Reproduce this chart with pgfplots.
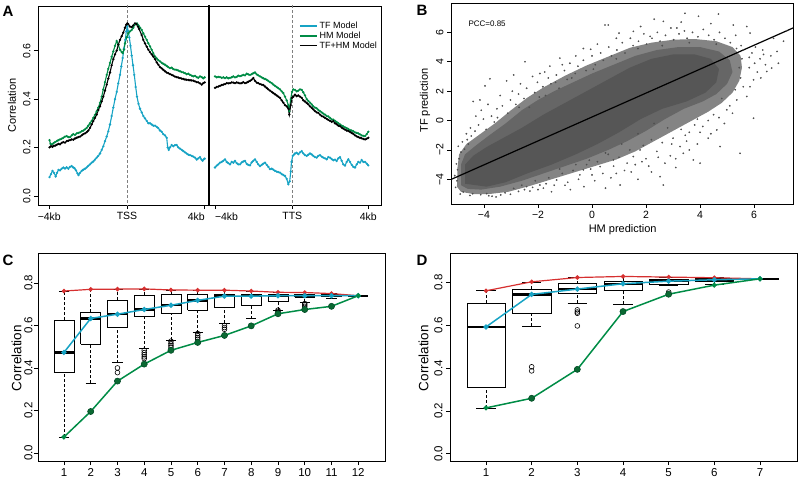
\documentclass[border=0pt]{standalone}
\usepackage{fontspec}
\setmainfont{Liberation Sans}
\usepackage{pgfplots}
\pgfplotsset{compat=1.18}
\definecolor{tfc}{RGB}{23,163,196}
\definecolor{hmc}{RGB}{0,140,70}
\definecolor{hmd}{RGB}{10,105,50}
\definecolor{redc}{RGB}{214,48,48}
\definecolor{ptc}{RGB}{80,80,80}
\definecolor{halo}{RGB}{132,132,132}
\definecolor{midc}{RGB}{102,102,102}
\definecolor{corec}{RGB}{86,86,86}
\newcommand{\fs}[1]{\fontsize{#1}{#1}\selectfont}
\pgfplotsset{
  rstyle/.style={
    scale only axis,
    axis line style={black, line width=0.8pt},
    tick style={black, line width=0.6pt},
    tick align=outside,
    major tick length=4pt,
    xtick pos=bottom, ytick pos=left,
    /pgf/number format/assume math mode=true,
    yticklabel style={rotate=90, anchor=south},
    xticklabel style={anchor=north},
    unbounded coords=jump,
  },
}
\begin{document}
\begin{tikzpicture}[x=1pt,y=1pt]
% ---------------- Panel A ----------------
\begin{axis}[rstyle, at={(38pt,275pt)}, anchor=south west, width=343pt, height=199pt,
  xmin=38, xmax=381, ymin=-0.038, ymax=0.785,
  xtick={49.3,127,204.7,215,292.3,368.3},
  xticklabels={−4kb,TSS,\llap{4kb},\rlap{−4kb},TTS,4kb},
  ytick={0,0.2,0.4,0.6}, yticklabels={0.0,0.2,0.4,0.6},
  tick label style={font=\fs{10.5}},
  ylabel={Correlation},
  ylabel style={at={(rel axis cs:-0.076,0.5)}, anchor=center, font=\fs{11}},
  legend style={draw=none, fill=none, at={(0.752,0.94)}, anchor=north west, font=\fs{9}, row sep=-2.2pt, cells={anchor=west}},
]
\addlegendimage{tfc, line width=1.4pt}
\addlegendentry{TF Model}
\addlegendimage{hmc, line width=1.4pt}
\addlegendentry{HM Model}
\addlegendimage{black, line width=1.4pt}
\addlegendentry{TF+HM Model}
\addplot[forget plot, gray, dash pattern=on 3pt off 2pt, line width=0.7pt] coordinates {(127,-0.05) (127,0.8)};
\addplot[forget plot, gray, dash pattern=on 3pt off 2pt, line width=0.7pt] coordinates {(292.3,-0.05) (292.3,0.8)};
\addplot[forget plot, black, line width=1.6pt] coordinates {(209,-0.05) (209,0.8)};
\addplot[forget plot, tfc, line width=1.1pt, mark=*, mark size=0.5pt] table[row sep=\\]{x y\\
49.5 0.077\\ 51 0.09\\ 52.5 0.103\\ 54 0.095\\ 55.7 0.08\\ 57 0.095\\ 58.5 0.107\\ 60 0.105\\ 61.7 0.112\\ 63.3 0.117\\
65 0.113\\ 66.7 0.118\\ 68.3 0.112\\ 70 0.12\\ 71.7 0.123\\ 73 0.118\\ 74.5 0.114\\ 76 0.105\\ 77.5 0.093\\ 78.5 0.086\\
80 0.095\\ 81.7 0.103\\ 83.3 0.108\\ 85 0.112\\ 86.7 0.117\\ 88.3 0.124\\ 90 0.13\\ 91.7 0.137\\ 93.3 0.142\\ 95 0.15\\
96.7 0.158\\ 98.3 0.165\\ 100 0.175\\ 101.7 0.19\\ 103.3 0.205\\ 105 0.226\\ 106.7 0.245\\ 108.3 0.267\\ 110 0.295\\ 111.7 0.33\\
113.3 0.365\\ 115 0.40\\ 116.7 0.43\\ 118.3 0.465\\ 120 0.50\\ 121.3 0.535\\ 122.7 0.57\\ 124 0.61\\ 125.3 0.645\\ 126.3 0.68\\
127.3 0.70\\ 128.3 0.68\\ 129.3 0.655\\ 130.5 0.62\\ 131.7 0.58\\ 133 0.54\\ 134.3 0.50\\ 135.7 0.45\\ 137 0.41\\ 138.5 0.38\\
140 0.36\\ 141.7 0.345\\ 143.3 0.33\\ 145 0.32\\ 146.7 0.31\\ 148.3 0.30\\ 150 0.30\\ 151.7 0.295\\ 153.3 0.29\\ 155 0.29\\
156.7 0.285\\ 158.3 0.28\\ 160 0.27\\ 161.7 0.265\\ 163.3 0.255\\ 165 0.25\\ 166.7 0.24\\ 167.7 0.2\\ 168.7 0.19\\ 170 0.2\\
171.7 0.21\\ 173.3 0.205\\ 175 0.21\\ 176.7 0.21\\ 178.3 0.2\\ 180 0.195\\ 181.7 0.19\\ 183.3 0.185\\ 185 0.18\\ 186.7 0.175\\
188.3 0.17\\ 190 0.168\\ 191.7 0.165\\ 193.3 0.162\\ 195 0.158\\ 196.7 0.15\\ 198.3 0.155\\ 200 0.16\\ 201.5 0.15\\ 202.7 0.145\\
204 0.152\\ 204.7 0.154\\ 209 nan\\
215 0.117\\ 216.7 0.125\\ 218.3 0.13\\ 220 0.137\\ 221.7 0.14\\ 223.3 0.145\\ 225 0.151\\ 226.7 0.14\\ 228.3 0.135\\ 230 0.13\\
231.7 0.14\\ 233.3 0.137\\ 235 0.144\\ 236.7 0.135\\ 238.3 0.13\\ 240 0.13\\ 241.7 0.138\\ 243.3 0.142\\ 245 0.144\\ 246.7 0.132\\
248.3 0.128\\ 250 0.126\\ 251.7 0.138\\ 253.3 0.145\\ 255 0.151\\ 256.7 0.14\\ 258.3 0.13\\ 260 0.123\\ 261.7 0.128\\ 263.3 0.133\\
265 0.137\\ 266.7 0.128\\ 268.3 0.12\\ 270 0.11\\ 271.7 0.112\\ 273.3 0.108\\ 275 0.103\\ 276.7 0.1\\ 278.3 0.098\\ 280 0.096\\
281.7 0.09\\ 283.3 0.086\\ 285 0.082\\ 286.7 0.07\\ 288.3 0.048\\ 289.7 0.06\\ 290.7 0.1\\ 291.5 0.14\\ 292.7 0.165\\ 294 0.17\\
295 0.175\\ 296.7 0.178\\ 298.3 0.172\\ 300 0.18\\ 301.7 0.185\\ 303.3 0.175\\ 305 0.168\\ 306.7 0.165\\ 308.3 0.17\\ 310 0.175\\
311.7 0.171\\ 313.3 0.165\\ 315 0.16\\ 316.7 0.158\\ 318.3 0.165\\ 320 0.168\\ 321.7 0.162\\ 323.3 0.158\\ 325 0.155\\ 326.7 0.151\\
328.3 0.16\\ 330 0.158\\ 331.7 0.152\\ 333.3 0.147\\ 335 0.15\\ 336.7 0.144\\ 338.3 0.155\\ 340 0.16\\ 341.7 0.145\\ 343.3 0.13\\
345 0.125\\ 346.7 0.14\\ 348.3 0.151\\ 350 0.14\\ 351.7 0.128\\ 353.3 0.12\\ 355 0.117\\ 356.7 0.13\\ 358.3 0.14\\ 360 0.137\\
361.7 0.148\\ 363.3 0.14\\ 365 0.14\\ 366.7 0.133\\ 368.3 0.126\\
};
\addplot[forget plot, hmc, line width=1.1pt, mark=*, mark size=0.5pt] table[row sep=\\]{x y\\
49.5 0.23\\ 50.5 0.215\\ 52 0.213\\ 53.5 0.218\\ 55 0.222\\ 56.7 0.226\\ 58.3 0.23\\ 60 0.233\\ 61.7 0.236\\ 63.3 0.24\\
65 0.245\\ 66.7 0.247\\ 68.3 0.243\\ 70 0.243\\ 71.7 0.25\\ 73.3 0.255\\ 75 0.252\\ 76.7 0.258\\ 78.3 0.26\\ 80 0.262\\
81.7 0.267\\ 83.3 0.27\\ 85 0.275\\ 86.7 0.281\\ 88.3 0.29\\ 90 0.30\\ 91.7 0.31\\ 93.3 0.322\\ 95 0.335\\ 96.7 0.35\\
98.3 0.365\\ 100 0.384\\ 101.7 0.41\\ 103.3 0.44\\ 105 0.47\\ 106.7 0.50\\ 108.3 0.525\\ 110 0.55\\ 111.7 0.575\\ 113.3 0.597\\
115 0.62\\ 116.7 0.64\\ 118.3 0.625\\ 120 0.604\\ 121.7 0.595\\ 122.7 0.59\\ 124 0.605\\ 125 0.63\\ 126.7 0.655\\ 128.3 0.672\\
130 0.68\\ 131.7 0.686\\ 133.3 0.695\\ 134.3 0.706\\ 135.7 0.71\\ 137 0.713\\ 138.5 0.705\\ 140 0.695\\ 141.7 0.686\\ 143.3 0.672\\
145 0.658\\ 146.7 0.645\\ 148.3 0.631\\ 150 0.618\\ 151.7 0.604\\ 153.3 0.59\\ 155 0.576\\ 156.7 0.568\\ 158.3 0.561\\ 160 0.556\\
161.7 0.55\\ 163.3 0.546\\ 165 0.542\\ 166.7 0.537\\ 168.3 0.532\\ 170 0.528\\ 171.7 0.53\\ 173.3 0.524\\ 175 0.522\\ 176.7 0.521\\
178.3 0.518\\ 180 0.515\\ 181.7 0.512\\ 183.3 0.51\\ 185 0.507\\ 186.7 0.503\\ 188.3 0.505\\ 190 0.50\\ 191.7 0.497\\ 193.3 0.494\\
195 0.496\\ 196.7 0.491\\ 198.3 0.488\\ 200 0.494\\ 201.7 0.491\\ 203.3 0.486\\ 204.7 0.49\\ 209 nan\\
215 0.494\\ 216.7 0.49\\ 218.3 0.492\\ 220 0.491\\ 221.7 0.488\\ 223.3 0.49\\ 225 0.487\\ 226.7 0.49\\ 228.3 0.486\\ 230 0.488\\
231.7 0.49\\ 233.3 0.494\\ 235 0.49\\ 236.7 0.492\\ 238.3 0.497\\ 240 0.495\\ 241.7 0.497\\ 243.3 0.5\\ 245 0.498\\ 246.7 0.505\\
248.3 0.502\\ 250 0.50\\ 251.7 0.503\\ 253.3 0.507\\ 255 0.51\\ 256.7 0.502\\ 258.3 0.498\\ 260 0.494\\ 261.7 0.49\\ 263.3 0.486\\
265 0.483\\ 266.7 0.48\\ 268.3 0.475\\ 270 0.47\\ 271.7 0.466\\ 273.3 0.46\\ 275 0.455\\ 276.7 0.45\\ 278.3 0.445\\ 280 0.44\\
281.7 0.432\\ 283.3 0.425\\ 285 0.41\\ 286.7 0.395\\ 288.3 0.375\\ 289.3 0.35\\ 290.7 0.4\\ 292 0.43\\ 293.3 0.44\\ 295 0.438\\
296.7 0.432\\ 298.3 0.435\\ 300 0.44\\ 301.7 0.438\\ 303.3 0.428\\ 305 0.415\\ 306.7 0.40\\ 308.3 0.392\\ 310 0.385\\ 311.7 0.378\\
313.3 0.37\\ 315 0.365\\ 316.7 0.362\\ 318.3 0.355\\ 320 0.35\\ 321.7 0.345\\ 323.3 0.34\\ 325 0.336\\ 326.7 0.33\\ 328.3 0.328\\
330 0.322\\ 331.7 0.316\\ 333.3 0.315\\ 335 0.31\\ 336.7 0.305\\ 338.3 0.3\\ 340 0.295\\ 341.7 0.29\\ 343.3 0.287\\ 345 0.283\\
346.7 0.28\\ 348.3 0.276\\ 350 0.272\\ 351.7 0.27\\ 353.3 0.267\\ 355 0.262\\ 356.7 0.26\\ 358.3 0.258\\ 360 0.254\\ 361.7 0.25\\
363.3 0.248\\ 365 0.247\\ 366.7 0.255\\ 368.3 0.265\\
};
\addplot[forget plot, black, line width=1.1pt, mark=*, mark size=0.5pt] table[row sep=\\]{x y\\
49.5 0.20\\ 51 0.205\\ 52.5 0.203\\ 54 0.207\\ 55.7 0.208\\ 57 0.212\\ 58.5 0.215\\ 60 0.213\\ 61.7 0.219\\ 63.3 0.222\\
65 0.22\\ 66.7 0.226\\ 68.3 0.228\\ 70 0.23\\ 71.7 0.233\\ 73.3 0.232\\ 75 0.237\\ 76.7 0.24\\ 78.3 0.243\\ 80 0.245\\
81.7 0.25\\ 83.3 0.255\\ 85 0.258\\ 86.7 0.263\\ 88.3 0.27\\ 90 0.281\\ 91.7 0.295\\ 93.3 0.309\\ 95 0.322\\ 96.7 0.336\\
98.3 0.355\\ 100 0.37\\ 101.7 0.39\\ 103.3 0.41\\ 105 0.435\\ 106.7 0.46\\ 108.3 0.485\\ 110 0.51\\ 111.7 0.54\\ 113.3 0.565\\
115 0.585\\ 116.7 0.60\\ 118.3 0.625\\ 120 0.645\\ 121.7 0.66\\ 123.3 0.675\\ 125 0.695\\ 126.3 0.708\\ 127.3 0.713\\ 128.3 0.71\\
130 0.70\\ 131.7 0.698\\ 133.3 0.705\\ 135 0.713\\ 136.5 0.71\\ 138 0.70\\ 139 0.69\\ 141.7 0.665\\ 143.3 0.645\\ 145 0.63\\
146.7 0.617\\ 148.3 0.604\\ 150 0.594\\ 151.7 0.585\\ 153.3 0.576\\ 155 0.565\\ 156.7 0.552\\ 158.3 0.542\\ 160 0.532\\ 161.7 0.527\\
163.3 0.521\\ 165 0.515\\ 166.7 0.51\\ 168.3 0.507\\ 170 0.503\\ 171.7 0.50\\ 173.3 0.497\\ 175 0.493\\ 176.7 0.491\\ 178.3 0.489\\
180 0.487\\ 181.7 0.485\\ 183.3 0.483\\ 185 0.481\\ 186.7 0.48\\ 188.3 0.479\\ 190 0.478\\ 191.7 0.477\\ 193.3 0.476\\ 195 0.473\\
196.7 0.47\\ 198.3 0.469\\ 200 0.465\\ 201.7 0.46\\ 203.3 0.466\\ 204.7 0.469\\ 209 nan\\
215 0.446\\ 216.7 0.45\\ 218.3 0.452\\ 220 0.455\\ 221.7 0.458\\ 223.3 0.46\\ 225 0.462\\ 226.7 0.466\\ 228.3 0.465\\ 230 0.466\\
231.7 0.469\\ 233.3 0.468\\ 235 0.466\\ 236.7 0.469\\ 238.3 0.467\\ 240 0.465\\ 241.7 0.466\\ 243.3 0.47\\ 245 0.466\\ 246.7 0.468\\
248.3 0.472\\ 250 0.475\\ 251.7 0.48\\ 253.3 0.487\\ 255 0.475\\ 256.7 0.468\\ 258.3 0.466\\ 260 0.462\\ 261.7 0.46\\ 263.3 0.458\\
265 0.452\\ 266.7 0.446\\ 268.3 0.44\\ 270 0.435\\ 271.7 0.43\\ 273.3 0.425\\ 275 0.42\\ 276.7 0.415\\ 278.3 0.41\\ 280 0.405\\
281.7 0.395\\ 283.3 0.385\\ 285 0.375\\ 286.7 0.37\\ 288.3 0.36\\ 289.3 0.336\\ 290.7 0.375\\ 292 0.405\\ 293.3 0.41\\ 295 0.418\\
296.7 0.412\\ 298.3 0.415\\ 300 0.41\\ 301.7 0.405\\ 303.3 0.395\\ 305 0.39\\ 306.7 0.384\\ 308.3 0.378\\ 310 0.37\\ 311.7 0.364\\
313.3 0.357\\ 315 0.35\\ 316.7 0.345\\ 318.3 0.343\\ 320 0.336\\ 321.7 0.33\\ 323.3 0.327\\ 325 0.322\\ 326.7 0.318\\ 328.3 0.314\\
330 0.31\\ 331.7 0.306\\ 333.3 0.309\\ 335 0.3\\ 336.7 0.296\\ 338.3 0.29\\ 340 0.288\\ 341.7 0.282\\ 343.3 0.278\\ 345 0.274\\
346.7 0.27\\ 348.3 0.268\\ 350 0.264\\ 351.7 0.26\\ 353.3 0.256\\ 355 0.25\\ 356.7 0.246\\ 358.3 0.243\\ 360 0.24\\ 361.7 0.238\\
363.3 0.235\\ 365 0.233\\ 366.7 0.236\\ 368.3 0.24\\
};
\end{axis}
% ---------------- Panel B ----------------
\begin{axis}[rstyle, at={(451pt,276pt)}, anchor=south west, width=342pt, height=201pt,
  xmin=-5.22, xmax=7.44, ymin=-5.68, ymax=8.0,
  xtick={-4,-2,0,2,4,6}, xticklabels={−4,−2,0,2,4,6},
  ytick={-4,-2,0,2,4,6}, yticklabels={−4,−2,0,2,4,6},
  tick label style={font=\fs{10.5}},
  xlabel={HM prediction}, ylabel={TF prediction},
  xlabel style={at={(rel axis cs:0.502,-0.129)}, anchor=center, font=\fs{11}},
  ylabel style={at={(rel axis cs:-0.076,0.515)}, anchor=center, font=\fs{11}},
]
\addplot[fill=halo, draw=none] table[row sep=\\]{x y\\
-5.0 -4.5\\ -4.98 -3.2\\ -4.92 -2.3\\ -4.65 -1.6\\ -4.2 -1.0\\ -3.6 -0.2\\ -3.0 0.7\\ -2.4 1.55\\ -1.8 2.25\\ -1.0 3.05\\
-0.2 3.75\\ 0.6 4.35\\ 1.4 4.95\\ 2.2 5.3\\ 3.0 5.5\\ 3.8 5.55\\ 4.6 5.4\\ 5.2 5.0\\ 5.5 4.4\\ 5.55 3.6\\
5.45 2.7\\ 5.2 1.9\\ 4.8 1.2\\ 4.3 0.6\\ 3.7 0.0\\ 3.0 -0.7\\ 2.3 -1.4\\ 1.6 -2.1\\ 0.9 -2.65\\ 0.1 -3.1\\
-0.7 -3.55\\ -1.5 -4.0\\ -2.3 -4.45\\ -3.1 -4.85\\ -3.8 -5.0\\ -4.4 -5.0\\ -4.85 -4.85\\
};
\addplot[fill=midc, draw=none] table[row sep=\\]{x y\\
-4.85 -4.4\\ -4.85 -3.0\\ -4.7 -2.3\\ -4.3 -1.7\\ -3.8 -1.0\\ -3.2 -0.2\\ -2.6 0.7\\ -2.0 1.4\\ -1.4 2.0\\ -0.7 2.6\\
0.0 3.2\\ 0.8 3.8\\ 1.6 4.4\\ 2.4 4.8\\ 3.2 5.0\\ 4.0 5.0\\ 4.7 4.7\\ 5.1 4.1\\ 5.2 3.3\\ 5.0 2.5\\
4.6 1.8\\ 4.1 1.3\\ 3.4 0.8\\ 2.7 0.1\\ 2.0 -0.7\\ 1.3 -1.4\\ 0.6 -2.0\\ -0.2 -2.6\\ -1.0 -3.1\\ -1.8 -3.6\\
-2.6 -4.1\\ -3.4 -4.5\\ -4.1 -4.7\\ -4.6 -4.65\\
};
\addplot[fill=corec, draw=none] table[row sep=\\]{x y\\
-4.7 -4.3\\ -4.7 -3.0\\ -4.4 -2.4\\ -3.9 -1.8\\ -3.3 -1.2\\ -2.6 -0.5\\ -1.8 0.4\\ -1.0 1.2\\ -0.2 2.0\\ 0.6 2.8\\
1.4 3.6\\ 2.2 4.2\\ 3.0 4.5\\ 3.8 4.5\\ 4.4 4.2\\ 4.7 3.5\\ 4.6 2.6\\ 4.2 1.9\\ 3.5 1.3\\ 2.6 0.8\\
1.8 0.1\\ 1.0 -0.8\\ 0.2 -1.6\\ -0.6 -2.3\\ -1.5 -3.0\\ -2.4 -3.6\\ -3.2 -4.2\\ -3.9 -4.5\\
};
\addplot[only marks, mark=*, mark size=0.65pt, ptc] table[row sep=\\]{x y\\
-5.05 -4.55\\ -5.0 -4.1\\ -5.08 -3.75\\ -4.98 -3.35\\ -5.02 -2.95\\ -4.92 -2.6\\ -4.85 -2.15\\ -4.72 -1.95\\ -4.58 -1.6\\ -4.62 -1.3\\
-4.47 -1.05\\ -4.33 -0.72\\ -4.42 -4.98\\ -4.12 -5.05\\ -3.82 -5.12\\ -3.55 -5.2\\ -3.22 -4.92\\ -3.02 -5.02\\ -2.72 -4.82\\ -2.9 -4.62\\
-4.77 -4.86\\ -4.88 -5.0\\ -4.52 -5.1\\ -3.9 -4.97\\ -3.38 -5.06\\ -4.95 -1.75\\ -4.8 -1.45\\ -4.5 -0.5\\ -4.65 -0.9\\ -3.7 -5.15\\
-2.5 -4.7\\ -2.2 -4.55\\
-4.2 -0.3\\ -4.02 0.1\\ -3.92 -0.6\\ -3.72 0.3\\ -3.52 0.8\\ -3.62 -0.1\\ -3.32 1.0\\ -3.12 0.5\\ -3.02 1.4\\ -2.82 1.1\\
-2.72 1.8\\ -2.52 1.5\\ -2.42 2.2\\ -2.32 0.9\\ -2.12 1.9\\ -2.02 2.6\\ -1.82 2.3\\ -1.72 1.7\\ -1.62 2.9\\ -1.52 2.5\\
-1.32 3.1\\ -1.22 2.2\\ -1.02 3.4\\ -0.92 2.8\\ -0.82 3.9\\ -0.62 3.2\\ -0.52 3.7\\ -0.32 4.1\\ -0.22 3.4\\ 0.0 4.4\\
0.12 3.8\\ 0.32 4.6\\ 0.42 4.1\\ 0.62 5.0\\ 0.72 4.4\\ 0.92 4.8\\ 1.12 5.3\\ 1.22 4.6\\ 1.42 5.6\\ 1.52 5.1\\
1.72 5.4\\ 1.92 5.9\\ 2.02 5.2\\ 2.22 5.6\\ 2.42 6.0\\ 2.52 5.4\\ 2.72 5.8\\ 2.92 6.3\\ 3.02 5.5\\ 3.22 5.9\\
3.42 6.1\\ 3.52 5.6\\ 3.72 6.0\\ 3.92 5.7\\ 4.12 6.2\\ 4.32 5.8\\ 4.52 5.5\\ 4.72 6.0\\ 4.92 5.6\\ 5.12 5.3\\
5.32 5.8\\ 5.52 5.1\\ -3.96 2.36\\ -3.78 2.84\\ -4.15 1.4\\ -3.16 2.7\\ -2.48 4.0\\ -1.93 3.2\\ -1.56 3.7\\ -1.19 4.25\\
-0.32 4.9\\ 0.48 6.5\\ 0.6 6.5\\ 1.53 6.07\\ 2.15 5.73\\ 2.64 6.75\\ 3.14 6.3\\ 3.44 7.3\\ 3.94 7.1\\ 4.68 7.25\\
5.23 6.5\\ 5.73 6.4\\ 5.85 5.95\\ -2.9 3.1\\ -4.4 1.3\\ -3.4 1.7\\ -2.65 2.5\\ -2.2 3.0\\ -1.1 3.8\\ -0.6 4.4\\
0.2 5.2\\ 0.9 5.6\\ 1.8 6.4\\ 2.3 6.9\\ 3.3 6.7\\ 4.4 6.6\\ -4.1 0.7\\ -3.85 1.1\\ -2.95 2.0\\ -1.75 3.3\\
-0.05 4.85\\ 1.0 5.95\\ -4.3 0.3\\ -3.5 0.2\\ -2.7 0.9\\ -1.95 1.6\\ -1.35 2.6\\ -0.75 2.9\\ 0.05 3.5\\ 0.9 4.2\\
1.7 4.9\\ 2.6 5.1\\ 3.6 5.3\\ 4.6 5.2\\
5.6 4.8\\ 5.82 4.3\\ 6.02 3.9\\ 5.92 4.6\\ 6.22 4.2\\ 6.42 3.8\\ 6.12 3.3\\ 5.82 3.6\\ 6.32 4.8\\ 6.62 4.4\\
6.72 5.6\\ 7.09 5.4\\ 6.35 4.5\\ 6.65 3.57\\ 6.47 3.34\\ 5.98 2.77\\ 5.6 2.3\\ 5.73 1.64\\ 5.98 0.16\\ 5.36 1.4\\
4.99 0.73\\ 5.5 2.9\\ 5.3 2.1\\ 5.1 1.0\\ 4.8 1.5\\ 5.45 3.6\\ 5.55 4.2\\ 5.35 4.9\\ 6.05 5.0\\ 5.85 2.3\\
6.25 2.9\\ 5.2 0.5\\ 6.85 4.7\\ 7.2 6.1\\ 6.9 3.9\\
4.62 -0.64\\ 4.74 -1.77\\ 5.48 -2.23\\ 4.0 -2.9\\ 3.75 -2.68\\ 3.38 -2.23\\ 3.26 -1.77\\ 2.52 -3.82\\ 2.64 -4.39\\ 1.04 -4.39\\
1.53 -2.45\\ 1.78 -2.0\\ 0.79 -2.68\\ 0.3 -3.14\\ -0.32 -3.36\\ -1.31 -4.05\\ -1.93 -4.39\\ -2.42 -4.5\\ 4.3 0.0\\ 4.5 0.4\\
4.1 -0.4\\ 3.9 0.1\\ 3.6 -0.8\\ 3.8 -0.3\\ 3.3 -0.6\\ 3.0 -1.2\\ 3.5 -1.4\\ 2.8 -0.5\\ 2.6 -1.5\\ 2.4 -2.1\\
2.2 -1.3\\ 2.0 -2.6\\ 1.9 -1.7\\ 1.6 -3.0\\ 1.4 -2.0\\ 1.2 -3.4\\ 1.0 -2.5\\ 0.8 -3.1\\ 0.6 -2.3\\ 0.4 -3.6\\
0.2 -2.8\\ 0.0 -3.7\\ -0.2 -3.0\\ -0.5 -4.0\\ -0.7 -3.4\\ -0.9 -4.2\\ -1.1 -3.6\\ -1.4 -4.4\\ -1.6 -3.9\\ -1.8 -4.6\\
-2.1 -4.1\\ -2.3 -4.8\\ -2.6 -4.4\\ 2.9 -2.4\\ 3.1 -3.2\\ 2.2 -3.5\\ 1.7 -4.0\\ 0.5 -4.6\\ 4.3 -1.2\\ 3.6 -2.0\\
2.3 -0.2\\ 1.7 -0.9\\ 1.1 -1.6\\ 0.5 -2.2\\ -0.1 -2.7\\ -0.6 -3.0\\ -1.2 -3.3\\ 4.9 -0.2\\ 4.4 -0.9\\ 3.9 -1.6\\
3.1 -2.6\\ 2.7 -2.9\\ 2.1 -3.1\\ 1.3 -2.9\\ 0.9 -3.6\\ 0.1 -4.1\\ -0.3 -4.5\\ -0.8 -4.7\\ -1.5 -4.85\\ 4.7 0.2\\
4.0 -0.8\\ 3.45 -1.0\\ 2.95 -1.6\\ 2.45 -2.5\\ 1.85 -2.8\\ 1.45 -3.5\\ 0.7 -3.9\\ -0.05 -3.3\\ -0.45 -3.7\\ -1.0 -4.4\\
-1.7 -4.3\\ -2.0 -4.7\\
};
\addplot[black, line width=1.2pt] coordinates {(-5.22,-4.01) (7.44,6.30)};
\node[anchor=west, font=\fs{8}] at (rel axis cs:0.041,0.895) {PCC=0.85};
\end{axis}
% ---------------- Panel C ----------------
\begin{axis}[rstyle, at={(38pt,19pt)}, anchor=south west, width=347pt, height=208pt,
  xmin=0.03, xmax=13.0, ymin=-0.038, ymax=0.941,
  xtick={1,2,3,4,5,6,7,8,9,10,11,12},
  ytick={0,0.2,0.4,0.6,0.8}, yticklabels={0.0,0.2,0.4,0.6,0.8},
  tick label style={font=\fs{11.5}},
  yticklabel shift=-2pt,
  ylabel={Correlation},
  ylabel style={at={(rel axis cs:-0.062,0.495)}, anchor=center, font=\fs{13.5}},
]
\addplot[black, line width=0.6pt, dash pattern=on 3pt off 2pt] table[row sep=\\]{x y\\
1 0.075\\ 1 0.38\\ 1 nan\\ 1 0.625\\ 1 0.762\\ 1 nan\\
2 0.328\\ 2 0.513\\ 2 nan\\ 2 0.663\\ 2 0.770\\ 2 nan\\
3 0.425\\ 3 0.593\\ 3 nan\\ 3 0.718\\ 3 0.771\\ 3 nan\\
4 0.491\\ 4 0.645\\ 4 nan\\ 4 0.744\\ 4 0.772\\ 4 nan\\
5 0.532\\ 5 0.658\\ 5 nan\\ 5 0.747\\ 5 0.767\\ 5 nan\\
6 0.566\\ 6 0.672\\ 6 nan\\ 6 0.748\\ 6 0.766\\ 6 nan\\
7 0.610\\ 7 0.686\\ 7 nan\\ 7 0.748\\ 7 0.766\\ 7 nan\\
8 0.632\\ 8 0.697\\ 8 nan\\ 8 0.748\\ 8 0.762\\ 8 nan\\
9 0.672\\ 9 0.714\\ 9 nan\\ 9 0.746\\ 9 0.756\\ 9 nan\\
10 0.710\\ 10 0.733\\ 10 nan\\ 10 0.748\\ 10 0.755\\ 10 nan\\
11 0.728\\ 11 0.738\\
};
\addplot[black, line width=0.6pt] table[row sep=\\]{x y\\
0.81 0.075\\ 1.19 0.075\\ 1 nan\\ 0.81 0.762\\ 1.19 0.762\\ 1 nan\\
1.81 0.328\\ 2.19 0.328\\ 2 nan\\ 1.81 0.770\\ 2.19 0.770\\ 2 nan\\
2.81 0.425\\ 3.19 0.425\\ 3 nan\\ 2.81 0.771\\ 3.19 0.771\\ 3 nan\\
3.81 0.491\\ 4.19 0.491\\ 4 nan\\ 3.81 0.772\\ 4.19 0.772\\ 4 nan\\
4.81 0.532\\ 5.19 0.532\\ 5 nan\\ 4.81 0.767\\ 5.19 0.767\\ 5 nan\\
5.81 0.566\\ 6.19 0.566\\ 6 nan\\ 5.81 0.766\\ 6.19 0.766\\ 6 nan\\
6.81 0.610\\ 7.19 0.610\\ 7 nan\\ 6.81 0.766\\ 7.19 0.766\\ 7 nan\\
7.81 0.632\\ 8.19 0.632\\ 8 nan\\ 7.81 0.762\\ 8.19 0.762\\ 8 nan\\
8.81 0.672\\ 9.19 0.672\\ 9 nan\\ 8.81 0.756\\ 9.19 0.756\\ 9 nan\\
9.81 0.710\\ 10.19 0.710\\ 10 nan\\ 9.81 0.755\\ 10.19 0.755\\ 10 nan\\
10.81 0.728\\ 11.19 0.728\\ 11 nan\\ 10.81 0.750\\ 11.19 0.750\\ 11 nan\\
0.625 0.38\\ 1.375 0.38\\ 1.375 0.625\\ 0.625 0.625\\ 0.625 0.38\\ 1 nan\\
1.625 0.513\\ 2.375 0.513\\ 2.375 0.663\\ 1.625 0.663\\ 1.625 0.513\\ 2 nan\\
2.625 0.593\\ 3.375 0.593\\ 3.375 0.718\\ 2.625 0.718\\ 2.625 0.593\\ 3 nan\\
3.625 0.645\\ 4.375 0.645\\ 4.375 0.744\\ 3.625 0.744\\ 3.625 0.645\\ 4 nan\\
4.625 0.658\\ 5.375 0.658\\ 5.375 0.747\\ 4.625 0.747\\ 4.625 0.658\\ 5 nan\\
5.625 0.672\\ 6.375 0.672\\ 6.375 0.748\\ 5.625 0.748\\ 5.625 0.672\\ 6 nan\\
6.625 0.686\\ 7.375 0.686\\ 7.375 0.748\\ 6.625 0.748\\ 6.625 0.686\\ 7 nan\\
7.625 0.697\\ 8.375 0.697\\ 8.375 0.748\\ 7.625 0.748\\ 7.625 0.697\\ 8 nan\\
8.625 0.714\\ 9.375 0.714\\ 9.375 0.746\\ 8.625 0.746\\ 8.625 0.714\\ 9 nan\\
9.625 0.733\\ 10.375 0.733\\ 10.375 0.748\\ 9.625 0.748\\ 9.625 0.733\\ 10 nan\\
10.625 0.738\\ 11.375 0.738\\ 11.375 0.748\\ 10.625 0.748\\ 10.625 0.738\\
};
\addplot[black, line width=2.4pt] table[row sep=\\]{x y\\
0.625 0.473\\ 1.375 0.473\\ 1 nan\\ 1.625 0.633\\ 2.375 0.633\\ 2 nan\\ 2.625 0.653\\ 3.375 0.653\\ 3 nan\\
3.625 0.675\\ 4.375 0.675\\ 4 nan\\ 4.625 0.695\\ 5.375 0.695\\ 5 nan\\ 5.625 0.718\\ 6.375 0.718\\ 6 nan\\
6.625 0.738\\ 7.375 0.738\\ 7 nan\\ 7.625 0.738\\ 8.375 0.738\\ 8 nan\\ 8.625 0.740\\ 9.375 0.740\\ 9 nan\\
9.625 0.740\\ 10.375 0.740\\ 10 nan\\ 10.625 0.740\\ 11.375 0.740\\ 11 nan\\ 11.625 0.740\\ 12.375 0.740\\
};
\addplot[only marks, mark=o, mark size=2.4pt, black, mark options={line width=0.6pt}] table[row sep=\\]{x y\\
3 0.40\\ 3 0.378\\ 4 0.483\\ 4 0.472\\ 4 0.462\\ 4 0.452\\ 4 0.444\\ 5 0.526\\ 5 0.515\\ 5 0.506\\ 5 0.498\\
6 0.562\\ 6 0.552\\ 6 0.543\\ 6 0.535\\ 7 0.60\\ 7 0.59\\ 7 0.582\\ 9 0.672\\ 9 0.666\\ 10 0.703\\ 10 0.697\\ 10 0.69\\
};
\addplot[redc, line width=1.2pt, mark=*, mark size=1.6pt] table[row sep=\\]{x y\\
1 0.762\\ 2 0.770\\ 3 0.771\\ 4 0.772\\ 5 0.767\\ 6 0.766\\ 7 0.766\\ 8 0.762\\ 9 0.756\\ 10 0.755\\ 11 0.750\\ 12 0.740\\
};
\addplot[tfc, line width=1.5pt, mark=*, mark size=1.8pt] table[row sep=\\]{x y\\
1 0.473\\ 2 0.633\\ 3 0.653\\ 4 0.675\\ 5 0.695\\ 6 0.718\\ 7 0.738\\ 8 0.738\\ 9 0.740\\ 10 0.740\\ 11 0.740\\ 12 0.740\\
};
\addplot[hmc, line width=1.5pt, mark=*, mark size=1.7pt] table[row sep=\\]{x y\\
1 0.075\\ 2 0.195\\ 3 0.338\\ 4 0.418\\ 5 0.483\\ 6 0.520\\ 7 0.553\\ 8 0.598\\ 9 0.655\\ 10 0.675\\ 11 0.690\\ 12 0.740\\
};
\addplot[only marks, mark=*, mark size=3.1pt, mark options={fill=hmd, draw=hmc!50!black, line width=0.5pt}] table[row sep=\\]{x y\\
2 0.195\\ 3 0.338\\ 4 0.418\\ 5 0.483\\ 6 0.520\\ 7 0.553\\ 8 0.598\\ 9 0.655\\ 10 0.675\\ 11 0.690\\
};
\end{axis}
% ---------------- Panel D ----------------
\begin{axis}[rstyle, at={(450pt,19pt)}, anchor=south west, width=347pt, height=208pt,
  xmin=0.212, xmax=7.81, ymin=-0.034, ymax=0.9375,
  xtick={1,2,3,4,5,6,7},
  ytick={0,0.2,0.4,0.6,0.8}, yticklabels={0.0,0.2,0.4,0.6,0.8},
  tick label style={font=\fs{11.5}},
  ylabel={Correlation},
  ylabel style={at={(rel axis cs:-0.076,0.495)}, anchor=center, font=\fs{13.5}},
]
\addplot[black, line width=0.6pt, dash pattern=on 3pt off 2pt] table[row sep=\\]{x y\\
1 0.214\\ 1 0.311\\ 1 nan\\ 1 0.703\\ 1 0.761\\ 1 nan\\
2 0.597\\ 2 0.656\\ 2 nan\\ 2 0.769\\ 2 0.803\\ 2 nan\\
3 0.703\\ 3 0.747\\ 3 nan\\ 3 0.795\\ 3 0.823\\ 3 nan\\
4 0.698\\ 4 0.7625\\ 4 nan\\ 4 0.806\\ 4 0.828\\ 4 nan\\
5 0.787\\ 5 0.792\\ 5 nan\\ 5 0.815\\ 5 0.825\\ 5 nan\\
6 0.79\\ 6 0.806\\ 6 nan\\ 6 0.818\\ 6 0.822\\
};
\addplot[black, line width=0.6pt] table[row sep=\\]{x y\\
0.79 0.214\\ 1.21 0.214\\ 1 nan\\ 0.79 0.761\\ 1.21 0.761\\ 1 nan\\
1.79 0.597\\ 2.21 0.597\\ 2 nan\\ 1.79 0.803\\ 2.21 0.803\\ 2 nan\\
2.79 0.703\\ 3.21 0.703\\ 3 nan\\ 2.79 0.823\\ 3.21 0.823\\ 3 nan\\
3.79 0.698\\ 4.21 0.698\\ 4 nan\\ 3.79 0.828\\ 4.21 0.828\\ 4 nan\\
4.79 0.787\\ 5.21 0.787\\ 5 nan\\ 4.79 0.825\\ 5.21 0.825\\ 5 nan\\
5.79 0.79\\ 6.21 0.79\\ 6 nan\\ 5.79 0.822\\ 6.21 0.822\\ 6 nan\\
0.58 0.311\\ 1.42 0.311\\ 1.42 0.703\\ 0.58 0.703\\ 0.58 0.311\\ 1 nan\\
1.58 0.656\\ 2.42 0.656\\ 2.42 0.769\\ 1.58 0.769\\ 1.58 0.656\\ 2 nan\\
2.58 0.747\\ 3.42 0.747\\ 3.42 0.795\\ 2.58 0.795\\ 2.58 0.747\\ 3 nan\\
3.58 0.7625\\ 4.42 0.7625\\ 4.42 0.806\\ 3.58 0.806\\ 3.58 0.7625\\ 4 nan\\
4.58 0.792\\ 5.42 0.792\\ 5.42 0.815\\ 4.58 0.815\\ 4.58 0.792\\ 5 nan\\
5.58 0.806\\ 6.42 0.806\\ 6.42 0.818\\ 5.58 0.818\\ 5.58 0.806\\
};
\addplot[black, line width=2.4pt] table[row sep=\\]{x y\\
0.58 0.592\\ 1.42 0.592\\ 1 nan\\ 1.58 0.744\\ 2.42 0.744\\ 2 nan\\ 2.58 0.769\\ 3.42 0.769\\ 3 nan\\
3.58 0.794\\ 4.42 0.794\\ 4 nan\\ 4.58 0.806\\ 5.42 0.806\\ 5 nan\\ 5.58 0.8125\\ 6.42 0.8125\\ 6 nan\\
6.58 0.817\\ 7.42 0.817\\
};
\addplot[only marks, mark=o, mark size=2.4pt, black, mark options={line width=0.6pt}] table[row sep=\\]{x y\\
2 0.406\\ 2 0.387\\ 3 0.672\\ 3 0.662\\ 3 0.656\\ 3 0.597\\ 5 0.755\\
};
\addplot[redc, line width=1.2pt, mark=*, mark size=1.6pt] table[row sep=\\]{x y\\
1 0.761\\ 2 0.803\\ 3 0.823\\ 4 0.828\\ 5 0.825\\ 6 0.822\\ 7 0.817\\
};
\addplot[tfc, line width=1.5pt, mark=*, mark size=1.8pt] table[row sep=\\]{x y\\
1 0.592\\ 2 0.744\\ 3 0.769\\ 4 0.794\\ 5 0.806\\ 6 0.8125\\ 7 0.817\\
};
\addplot[hmc, line width=1.5pt, mark=*, mark size=1.7pt] table[row sep=\\]{x y\\
1 0.214\\ 2 0.259\\ 3 0.394\\ 4 0.664\\ 5 0.745\\ 6 0.7875\\ 7 0.817\\
};
\addplot[only marks, mark=*, mark size=3.1pt, mark options={fill=hmd, draw=hmc!50!black, line width=0.5pt}] table[row sep=\\]{x y\\
2 0.259\\ 3 0.394\\ 4 0.664\\ 5 0.745\\
};
\end{axis}
% panel letters
\node[font=\bfseries\fs{15}] at (8,469) {A};
\node[font=\bfseries\fs{15}] at (422,470) {B};
\node[font=\bfseries\fs{15}] at (8,220) {C};
\node[font=\bfseries\fs{15}] at (422,220) {D};
\pgfresetboundingbox
\useasboundingbox (0,0) rectangle (800,480);
\end{tikzpicture}
\end{document}
